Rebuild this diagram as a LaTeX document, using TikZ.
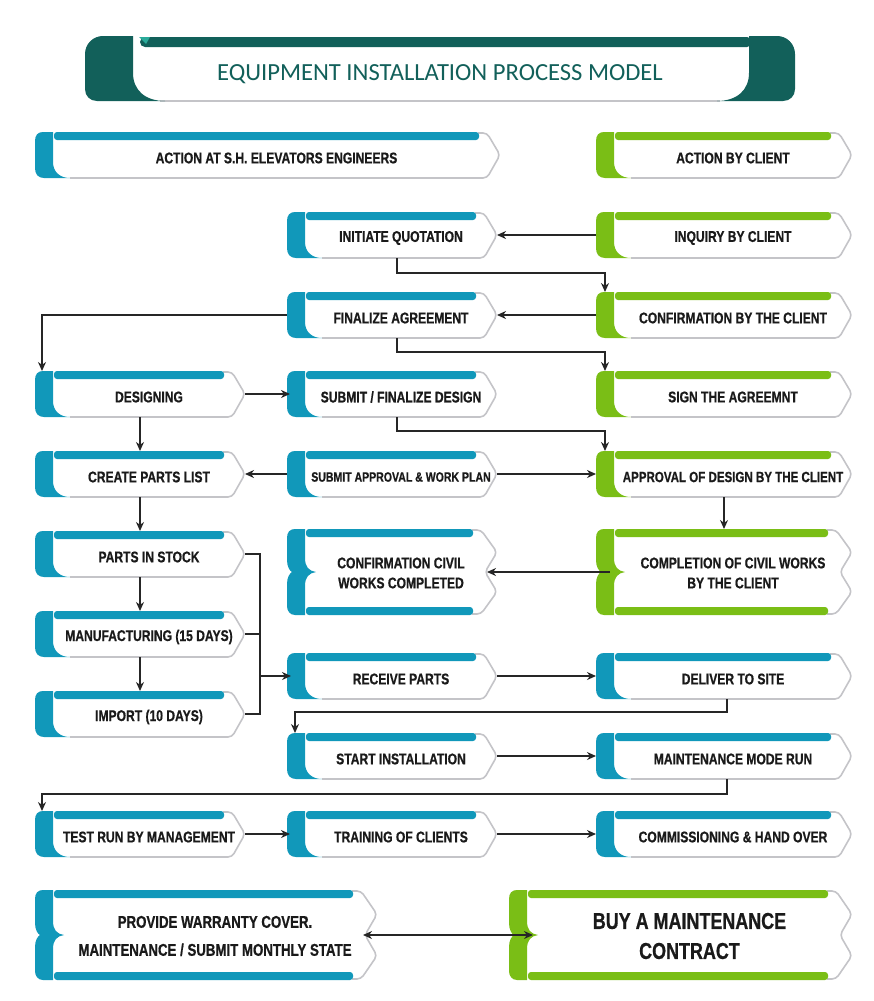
\documentclass[tikz,border=0pt]{standalone}
\usepackage{fontspec}
\newfontfamily\boxfont{Liberation Sans}[FakeStretch=0.78,FakeBold=0.7]
\newfontfamily\titlefont{Carlito}
\usetikzlibrary{arrows.meta,calc}
\pgfdeclarelayer{background}
\pgfsetlayers{background,main}
\definecolor{cblue}{HTML}{1198BA}
\definecolor{cgreen}{HTML}{7ABE16}
\definecolor{cteal}{HTML}{12605A}
\definecolor{cteallt}{HTML}{2AAA9A}
\definecolor{coutl}{HTML}{C4C4C8}
\definecolor{ctext}{HTML}{1A1A1A}
\definecolor{carrow}{HTML}{262626}
\tikzset{
  boxshape/.style={rectangle, inner sep=0pt, outer sep=0pt},
  boxtxt/.style={text=ctext, align=center, inner sep=0pt},
  outl/.style={draw=coutl, line width=1.6pt, line join=round},
  arr/.style={draw=carrow, line width=1.5pt, -{Stealth[length=9pt,width=8pt]}},
  arrtwo/.style={draw=carrow, line width=1.5pt, {Stealth[length=9pt,width=8pt]}-{Stealth[length=9pt,width=8pt]}},
  plain/.style={draw=carrow, line width=1.5pt},
}
% single box: [size] name, L, R, c, colour, text
\newcommand\mybox[6][15.5]{%
  \pgfmathsetmacro\bxL{#3}\pgfmathsetmacro\bxR{#4}%
  \pgfmathsetmacro\bxT{#5-26}\pgfmathsetmacro\bxB{#5+20}\pgfmathsetmacro\bxM{#5-3}%
  \pgfmathsetmacro\bxW{#4-#3}%
  \node[boxshape, minimum width=\bxW pt, minimum height=46pt] (#2) at ({(#3+#4)/2},\bxM) {};
  \node[boxtxt, font=\boxfont\bfseries\fontsize{#1}{20}\selectfont] at ([xshift=9pt,yshift=-3pt]#2.center) {\mytext};
  \begin{pgfonlayer}{background}
    \fill[white] (\bxL+18,\bxT+1) -- (\bxR-14,\bxT+1) -- (\bxR,\bxM) -- (\bxR-14,\bxB) -- (\bxL+18,\bxB) -- cycle;
    \fill[\mycol] (\bxL+8,\bxT) -- (\bxL+18,\bxT) -- (\bxL+18,\bxB-16) .. controls (\bxL+18,\bxB-6) and (\bxL+25,\bxB) .. (\bxL+35,\bxB) -- (\bxL+9,\bxB) .. controls (\bxL+3,\bxB) and (\bxL,\bxB-4) .. (\bxL,\bxB-10) -- (\bxL,\bxT+9) .. controls (\bxL,\bxT+3) and (\bxL+3,\bxT) .. (\bxL+8,\bxT) -- cycle;
    \draw[outl, rounded corners=4pt] (\bxR-22,\bxT+1) -- (\bxR-13,\bxT+1) -- (\bxR,\bxM) -- (\bxR-13,\bxB) -- (\bxL+35,\bxB);
    \fill[\mycol, rounded corners=3pt] (\bxL+19,\bxT) rectangle (\bxR-21,\bxT+8);
  \end{pgfonlayer}
}
\newcommand\mycol{cblue}
\newcommand\mytext{}
\newcommand\SB[7][15.5]{\renewcommand\mycol{#6}\renewcommand\mytext{#7}\mybox[#1]{#2}{#3}{#4}{#5}{}{}}
% double box: name, L, R, T, B, colour, size, baselineskip, text
\newcommand\dbox[9]{%
  \pgfmathsetmacro\bxL{#2}\pgfmathsetmacro\bxR{#3}%
  \pgfmathsetmacro\bxT{#4}\pgfmathsetmacro\bxB{#5}\pgfmathsetmacro\bxM{(#4+#5)/2}%
  \pgfmathsetmacro\bxW{#3-#2}\pgfmathsetmacro\bxH{#5-#4}\pgfmathsetmacro\bxQ{0.27*(#5-#4)}%
  \node[boxshape, minimum width=\bxW pt, minimum height=\bxH pt] (#1) at ({(#2+#3)/2},\bxM) {};
  \node[boxtxt, font=\boxfont\bfseries\fontsize{#7}{#8}\selectfont] at ([xshift=9pt,yshift=-1pt]#1.center) {#9};
  \begin{pgfonlayer}{background}
    \fill[white] (\bxL+18,\bxT+1) -- (\bxR-16,\bxT+1) -- (\bxR,\bxT+\bxQ) -- (\bxR-12,\bxM) -- (\bxR,\bxB-\bxQ) -- (\bxR-16,\bxB) -- (\bxL+18,\bxB) -- cycle;
    \fill[#6] (\bxL+8,\bxT) -- (\bxL+18,\bxT) -- (\bxL+18,\bxM-14) .. controls (\bxL+18,\bxM-5) and (\bxL+22,\bxM-1) .. (\bxL+29,\bxM) .. controls (\bxL+22,\bxM+1) and (\bxL+18,\bxM+5) .. (\bxL+18,\bxM+14) -- (\bxL+18,\bxB) -- (\bxL+8,\bxB) .. controls (\bxL+3,\bxB) and (\bxL,\bxB-4) .. (\bxL,\bxB-9) -- (\bxL,\bxM+12) .. controls (\bxL,\bxM+5) and (\bxL+3,\bxM+1) .. (\bxL+5,\bxM) .. controls (\bxL+3,\bxM-1) and (\bxL,\bxM-5) .. (\bxL,\bxM-12) -- (\bxL,\bxT+9) .. controls (\bxL,\bxT+3) and (\bxL+3,\bxT) .. (\bxL+8,\bxT) -- cycle;
    \draw[outl, rounded corners=4pt] (\bxR-25,\bxT+1) -- (\bxR-16,\bxT+1) -- (\bxR,\bxT+\bxQ) -- (\bxR-12,\bxM) -- (\bxR,\bxB-\bxQ) -- (\bxR-16,\bxB-1) -- (\bxR-25,\bxB-1);
    \fill[#6, rounded corners=3pt] (\bxL+19,\bxT) rectangle (\bxR-24,\bxT+8);
    \fill[#6, rounded corners=3pt] (\bxL+19,\bxB-8) rectangle (\bxR-24,\bxB);
  \end{pgfonlayer}
}
\begin{document}
\begin{tikzpicture}[x=1pt,y=-1pt]
\useasboundingbox (0,0) rectangle (874,1001);
% ---- title ----
\node[boxshape, minimum width=710pt, minimum height=65pt] (title) at (440,68.5) {};
\node[font=\titlefont\fontsize{24.6}{28}\selectfont, text=cteal, inner sep=0pt] at ([yshift=-6pt]title.center) {EQUIPMENT INSTALLATION PROCESS MODEL};
\begin{pgfonlayer}{background}
  \fill[white] (125,38) rectangle (755,101);
  \draw[outl] (160,101) -- (720,101);
  \fill[cteal] (103,36) -- (133,36) -- (133,73) .. controls (133,90) and (145,101) .. (165,101) -- (97,101) .. controls (90,101) and (85,96) .. (85,89) -- (85,54) .. controls (85,44) and (93,36) .. (103,36) -- cycle;
  \fill[cteal] (777,36) -- (749,36) -- (749,73) .. controls (749,90) and (737,101) .. (717,101) -- (783,101) .. controls (790,101) and (795,96) .. (795,89) -- (795,54) .. controls (795,44) and (787,36) .. (777,36) -- cycle;
  \fill[cteal, rounded corners=5pt] (140,37) rectangle (752,47);
  \fill[cteallt] (139,37) -- (150,37) -- (146,44) -- cycle;
\end{pgfonlayer}
% ---- boxes ----
\SB{hl}{35}{500}{158}{cblue}{ACTION AT S.H. ELEVATORS ENGINEERS}
\SB{hr}{596}{852}{158}{cgreen}{ACTION BY CLIENT}
\SB{iq}{287}{497}{238}{cblue}{INITIATE QUOTATION}
\SB{ic}{596}{852}{238}{cgreen}{INQUIRY BY CLIENT}
\SB{fa}{287}{497}{318}{cblue}{FINALIZE AGREEMENT}
\SB{cc}{596}{852}{318}{cgreen}{CONFIRMATION BY THE CLIENT}
\SB{de}{35}{245}{397}{cblue}{DESIGNING}
\SB{sd}{287}{497}{397}{cblue}{SUBMIT / FINALIZE DESIGN}
\SB{sa}{596}{852}{397}{cgreen}{SIGN THE AGREEMNT}
\SB{cp}{35}{245}{477}{cblue}{CREATE PARTS LIST}
\SB[13.5]{sw}{287}{497}{477}{cblue}{SUBMIT APPROVAL \& WORK PLAN}
\SB[14.8]{ad}{596}{852}{477}{cgreen}{APPROVAL OF DESIGN BY THE CLIENT}
\SB{ps}{35}{245}{557}{cblue}{PARTS IN STOCK}
\SB{mf}{35}{245}{637}{cblue}{MANUFACTURING (15 DAYS)}
\SB{im}{35}{245}{717}{cblue}{IMPORT (10 DAYS)}
\dbox{cw}{287}{497}{529}{615}{cblue}{15.5}{20}{CONFIRMATION CIVIL\\WORKS COMPLETED}
\dbox{cv}{596}{852}{529}{615}{cgreen}{15.5}{20}{COMPLETION OF CIVIL WORKS\\BY THE CLIENT}
\SB{rp}{287}{497}{679}{cblue}{RECEIVE PARTS}
\SB{ds}{596}{852}{679}{cblue}{DELIVER TO SITE}
\SB{si}{287}{497}{759}{cblue}{START INSTALLATION}
\SB{mm}{596}{852}{759}{cblue}{MAINTENANCE MODE RUN}
\SB{tr}{35}{245}{837}{cblue}{TEST RUN BY MANAGEMENT}
\SB{tc}{287}{497}{837}{cblue}{TRAINING OF CLIENTS}
\SB{ch}{596}{852}{837}{cblue}{COMMISSIONING \& HAND OVER}
\dbox{pw}{35}{377}{890}{980}{cblue}{17}{28}{PROVIDE WARRANTY COVER.\\MAINTENANCE / SUBMIT MONTHLY STATE}
\dbox{bm}{509}{852}{890}{980}{cgreen}{23}{30}{BUY A MAINTENANCE\\CONTRACT}
% ---- connectors ----
\draw[arr] (ic.west) -- (iq.east);
\draw[arr] ([xshift=5pt]iq.south) -- ++(0,15) -| ([xshift=9pt]cc.north west);
\draw[arr] (cc.west) -- (fa.east);
\draw[arr] (fa.west) -| ([xshift=7pt]de.north west);
\draw[arr] ([xshift=5pt]fa.south) -- ++(0,14) -| ([xshift=9pt]sa.north west);
\draw[arr] (de.east) -- ([xshift=3pt]sd.west);
\draw[arr] (de.south) -- (cp.north);
\draw[arr] ([xshift=5pt]sd.south) -- ++(0,14) -| ([xshift=9pt]ad.north west);
\draw[arr] (sw.west) -- (cp.east);
\draw[arr] (sw.east) -- (ad.west);
\draw[arr] (ad.south) -- (cv.north);
\draw[arr] ([xshift=14pt]cv.west) -- ([xshift=-10pt]cw.east);
\draw[arr] (cp.south) -- (ps.north);
\draw[arr] (ps.south) -- (mf.north);
\draw[arr] (mf.south) -- (im.north);
\coordinate (bx) at ($(ps.east)+(15,0)$);
\draw[plain] (ps.east) -- (bx) -- (bx |- im.east) -- (im.east);
\draw[plain] (mf.east) -- (mf.east -| bx);
\draw[arr] (bx |- rp.west) -- ([xshift=4pt]rp.west);
\draw[arr] (rp.east) -- (ds.west);
\draw[arr] ([xshift=3pt]ds.south) -- ++(0,13) -| ([xshift=8pt]si.north west);
\draw[arr] (si.east) -- (mm.west);
\draw[arr] ([xshift=3pt]mm.south) -- ++(0,15) -| ([xshift=7pt]tr.north west);
\draw[arr] (tr.east) -- ([xshift=3pt]tc.west);
\draw[arr] (tc.east) -- (ch.west);
\draw[arrtwo] ([xshift=-14pt]pw.east) -- ([xshift=24pt]bm.west);
\end{tikzpicture}
\end{document}
